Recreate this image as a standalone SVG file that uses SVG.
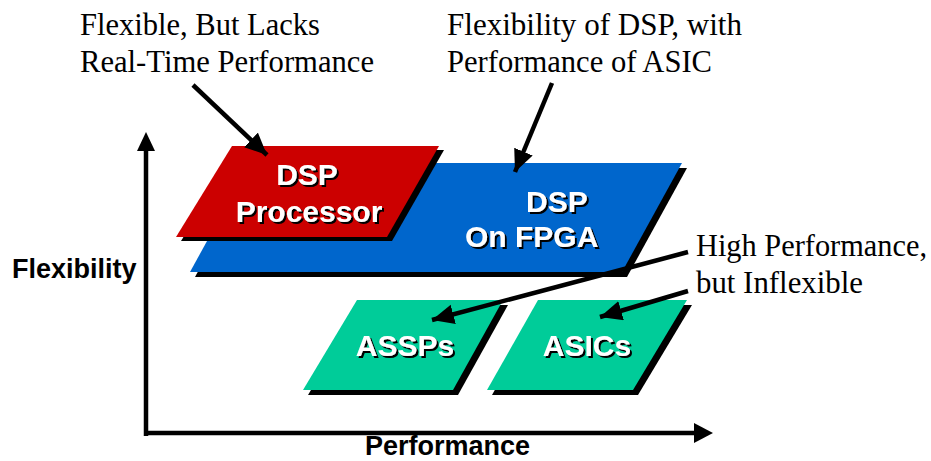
<svg xmlns="http://www.w3.org/2000/svg" width="931" height="461" viewBox="0 0 931 461">
<style>
.note{font-family:"Liberation Serif","Times New Roman",serif;font-size:30.5px;fill:#000}
.axis{font-family:"Liberation Sans",Arial,sans-serif;font-size:27px;font-weight:bold;fill:#000}
.lbl{font-family:"Liberation Sans",Arial,sans-serif;font-size:30px;font-weight:bold;fill:#fff;filter:url(#ts)}
.shadow{fill:#000}
.line{stroke:#000;stroke-width:4.5;fill:none}
</style>
<defs>
<filter id="ts" x="-10%" y="-20%" width="130%" height="150%">
<feDropShadow dx="2" dy="2" stdDeviation="0.4" flood-color="#000" flood-opacity="1"/>
</filter>
<marker id="ah" markerUnits="userSpaceOnUse" markerWidth="24" markerHeight="22" refX="22" refY="10" orient="auto">
<path d="M0,0 L22,10 L0,20 Z" fill="#000"/>
</marker>
</defs>

<g id="axes">
<line class="line" x1="146" y1="436" x2="146" y2="150" stroke-width="5"/>
<path d="M137,151 L146,132 L155,151 Z" fill="#000"/>
<line class="line" x1="144" y1="433" x2="695" y2="433" stroke-width="6"/>
<path d="M694,423 L713,433 L694,443 Z" fill="#000"/>
<text class="axis" x="12" y="278">Flexibility</text>
<text class="axis" x="365" y="455">Performance</text>
</g>

<g id="fpga">
<path class="shadow" d="M255,168 L687,168 L627,277 L195,277 Z"/>
<path d="M250,163 L682,163 L622,272 L190,272 Z" fill="#0066CC"/>
<text class="lbl" x="526" y="212">DSP</text>
<text class="lbl" x="465" y="247">On FPGA</text>
</g>

<g id="dsp">
<path class="shadow" d="M237,150 L444,150 L392,241 L181,241 Z"/>
<path d="M232,146 L439,146 L387,237 L176,237 Z" fill="#CC0000"/>
<text class="lbl" x="307" y="185" text-anchor="middle">DSP</text>
<text class="lbl" x="309" y="222" text-anchor="middle">Processor</text>
</g>

<g id="assps">
<path class="shadow" d="M362,305 L508,305 L458,395 L308,395 Z"/>
<path d="M357,300 L503,300 L453,390 L303,390 Z" fill="#00CC99"/>
<text class="lbl" x="405" y="356" text-anchor="middle">ASSPs</text>
</g>

<g id="asics">
<path class="shadow" d="M543,305 L692,305 L638,395 L492,395 Z"/>
<path d="M538,300 L687,300 L633,390 L487,390 Z" fill="#00CC99"/>
<text class="lbl" x="587" y="356" text-anchor="middle">ASICs</text>
</g>

<g id="notes">
<text class="note" x="80" y="35" textLength="240" lengthAdjust="spacingAndGlyphs">Flexible, But Lacks</text>
<text class="note" x="80" y="72" textLength="294" lengthAdjust="spacingAndGlyphs">Real-Time Performance</text>
<text class="note" x="447" y="35" textLength="295" lengthAdjust="spacingAndGlyphs">Flexibility of DSP, with</text>
<text class="note" x="447" y="72" textLength="265" lengthAdjust="spacingAndGlyphs">Performance of ASIC</text>
<text class="note" x="696" y="256" textLength="231" lengthAdjust="spacingAndGlyphs">High Performance,</text>
<text class="note" x="696" y="293" textLength="167" lengthAdjust="spacingAndGlyphs">but Inflexible</text>
</g>

<g id="connectors">
<line class="line" x1="193" y1="85" x2="267" y2="155" marker-end="url(#ah)"/>
<line class="line" x1="552" y1="83" x2="515" y2="172" marker-end="url(#ah)"/>
<line class="line" x1="688" y1="252" x2="432" y2="320" marker-end="url(#ah)"/>
<line class="line" x1="688" y1="291" x2="600" y2="317" marker-end="url(#ah)"/>
</g>
</svg>
